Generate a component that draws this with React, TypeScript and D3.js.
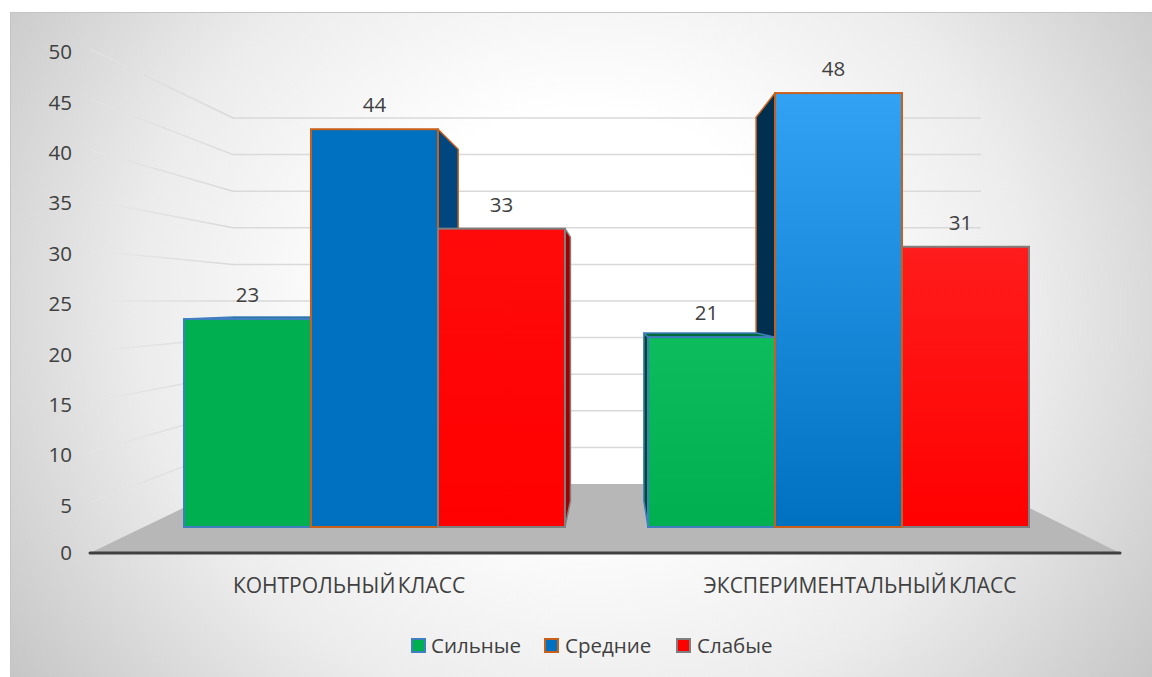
import React from "react";
import * as d3 from "d3";

const categories = ["КОНТРОЛЬНЫЙ КЛАСС", "ЭКСПЕРИМЕНТАЛЬНЫЙ КЛАСС"];
const seriesNames = ["Сильные", "Средние", "Слабые"];
const strongValues = [23, 21];
const middleValues = [44, 48];
const weakValues = [33, 31];
const yTicks = [0, 5, 10, 15, 20, 25, 30, 35, 40, 45, 50];

const seriesValues = [strongValues, middleValues, weakValues];

const W = 1152;
const H = 677;
const FONT = "'Open Sans', 'Noto Sans', sans-serif";
const TEXT = "#404040";

// Vanishing point of the box and the depth of the bars along rays toward it.
const VP: [number, number] = [612, 301];
const BAR_DEPTH = 0.116;
const toward = (x: number, y: number, t: number): [number, number] => [
  x + (VP[0] - x) * t,
  y + (VP[1] - y) * t,
];

// Value scales on the three planes of the scene.
const yWallFront = d3.scaleLinear().domain([0, 50]).range([553, 49]);
const yWallBack = d3.scaleLinear().domain([0, 50]).range([484, 118]);
const yBars = d3.scaleLinear().domain([0, 50]).range([527, 75]);

const xCategory = d3.scaleBand<number>().domain([0, 1]).range([144, 1069]).paddingInner(0.179).paddingOuter(0.0862);
const xSeries = d3.scaleBand<number>().domain([0, 1, 2]).range([0, xCategory.bandwidth()]);

const strokes = ["#3f7fbf", "#c8601a", "#7f7f7f"];
const fronts = [
  [["#00b050", "#00b050"], ["#0070c0", "#0070c0"], ["#ff0a0a", "#ff0000"]],
  [["#0dbc5c", "#00b050"], ["#32a2f5", "#0070c0"], ["#ff1c1c", "#ff0000"]],
];
const sides = [
  ["#00502a", "#00477f", "#a00000"],
  ["#004a2a", "#002f50", "#a00000"],
];
const tops = [
  ["#006b38", "#005a96", "#c00000"],
  ["#006b38", "#005a96", "#c00000"],
];

const poly = (pts: [number, number][]) => d3.line()(pts) + "Z";

type Bar = { c: number; s: number; v: number; x0: number; x1: number; y0: number; y1: number };
const bars: Bar[] = categories.flatMap((_, c) =>
  seriesNames.map((_, s) => {
    const x0 = xCategory(c)! + xSeries(s)!;
    return { c, s, v: seriesValues[s][c], x0, x1: x0 + xSeries.bandwidth(), y0: yBars(0), y1: yBars(seriesValues[s][c]) };
  })
);

// Left group paints left to right, right group right to left, so the bars nearest the centre of view overlap.
const paintOrder = [...bars.filter((b) => b.c === 0), ...bars.filter((b) => b.c === 1).reverse()];
const frontOrder = [...bars.filter((b) => b.c === 0), bars[3], bars[5], bars[4]];

const backFaces = (b: Bar) => {
  const sideX = b.c === 0 ? b.x1 : b.x0;
  const side = poly([
    [sideX, b.y1],
    toward(sideX, b.y1, BAR_DEPTH),
    toward(sideX, b.y0, BAR_DEPTH),
    [sideX, b.y0],
  ]);
  const top = b.y1 > VP[1]
    ? poly([[b.x0, b.y1], toward(b.x0, b.y1, BAR_DEPTH), toward(b.x1, b.y1, BAR_DEPTH), [b.x1, b.y1]])
    : null;
  return (
    <g key={`back-${b.c}-${b.s}`} stroke={strokes[b.s]} strokeWidth={1.5} strokeLinejoin="round">
      <path d={side} fill={sides[b.c][b.s]} />
      {top && <path d={top} fill={tops[b.c][b.s]} />}
    </g>
  );
};

export default function App() {
  const swatchX = [412, 545, 677];
  const legendTextX = [431, 565, 697];

  return (
    <svg
      width={W}
      height={H}
      viewBox={`0 0 ${W} ${H}`}
      style={{ position: "absolute", left: 0, top: 0, display: "block", background: "#fff" }}
    >
      <defs>
        <radialGradient
          id="panel"
          gradientUnits="userSpaceOnUse"
          cx={0}
          cy={0}
          r={1}
          gradientTransform="translate(585 310) scale(720 660)"
        >
          <stop offset="0.3" stopColor="#ffffff" />
          <stop offset="0.62" stopColor="#ececec" />
          <stop offset="0.97" stopColor="#c6c6c6" />
        </radialGradient>
        <linearGradient id="wallLine" gradientUnits="userSpaceOnUse" x1={90} y1={0} x2={233} y2={0}>
          <stop offset="0" stopColor="#e8e8e8" stopOpacity={0.45} />
          <stop offset="0.5" stopColor="#dcdcdc" stopOpacity={0.7} />
          <stop offset="1" stopColor="#d9d9d9" />
        </linearGradient>
        {bars.map((b) => (
          <linearGradient key={b.c + "-" + b.s} id={`f${b.c}${b.s}`} x1={0} y1={0} x2={0} y2={1}>
            <stop offset="0" stopColor={fronts[b.c][b.s][0]} />
            <stop offset="1" stopColor={fronts[b.c][b.s][1]} />
          </linearGradient>
        ))}
      </defs>

      <rect x={10.5} y={12.5} width={W} height={H} fill="url(#panel)" stroke="#c4c4c4" />

      {/* floor */}
      <path
        d={poly([[90, yWallFront(0)], [1120, yWallFront(0)], [981, yWallBack(0)], [233, yWallBack(0)]])}
        fill="#b7b7b7"
      />

      {/* gridlines: back wall, then the fading left wall */}
      {yTicks.slice(1).map((t) => (
        <g key={t} fill="none" strokeWidth={1.5}>
          <line x1={233} x2={981} y1={yWallBack(t)} y2={yWallBack(t)} stroke="#d9d9d9" />
          <path d={d3.line()([[90, yWallFront(t)], [233, yWallBack(t)]])!} stroke="url(#wallLine)" />
        </g>
      ))}

      {/* y axis labels */}
      {yTicks.map((t) => (
        <text key={t} x={72} y={yWallFront(t) + 3 - (t === 0 ? 3 : 0)} dy="0.35em" textAnchor="end" fontFamily={FONT} fontSize={20.5} fill={TEXT}>
          {t}
        </text>
      ))}

      {paintOrder.map(backFaces)}

      {frontOrder.map((b) => (
        <rect
          key={`front-${b.c}-${b.s}`}
          x={b.x0}
          y={b.y1}
          width={b.x1 - b.x0}
          height={b.y0 - b.y1}
          fill={`url(#f${b.c}${b.s})`}
          stroke={strokes[b.s]}
          strokeWidth={2}
        />
      ))}

      {/* value labels */}
      {bars.map((b) => (
        <text
          key={`v-${b.c}-${b.s}`}
          x={(b.x0 + b.x1) / 2 - (b.c === 0 ? 0 : 5)}
          y={b.y1 - 24}
          dy="0.35em"
          textAnchor="middle"
          fontFamily={FONT}
          fontSize={20.5}
          fill={TEXT}
        >
          {b.v}
        </text>
      ))}

      {/* category axis */}
      <line x1={90} x2={1120} y1={yWallFront(0)} y2={yWallFront(0)} stroke="#404040" strokeWidth={3} strokeLinecap="round" />
      {categories.map((c, i) => (
        <text key={c} x={i === 0 ? 349 : 860} y={586} dy="0.35em" textAnchor="middle" fontFamily={FONT} fontSize={21} wordSpacing={-3} fill={TEXT}>
          {c}
        </text>
      ))}

      {/* legend */}
      {seriesNames.map((n, i) => (
        <g key={n}>
          <rect x={swatchX[i]} y={639} width={13} height={13} fill={fronts[0][i][1]} stroke={strokes[i]} strokeWidth={2} />
          <text x={legendTextX[i]} y={646} dy="0.35em" fontFamily={FONT} fontSize={20.5} fill={TEXT}>
            {n}
          </text>
        </g>
      ))}
    </svg>
  );
}
